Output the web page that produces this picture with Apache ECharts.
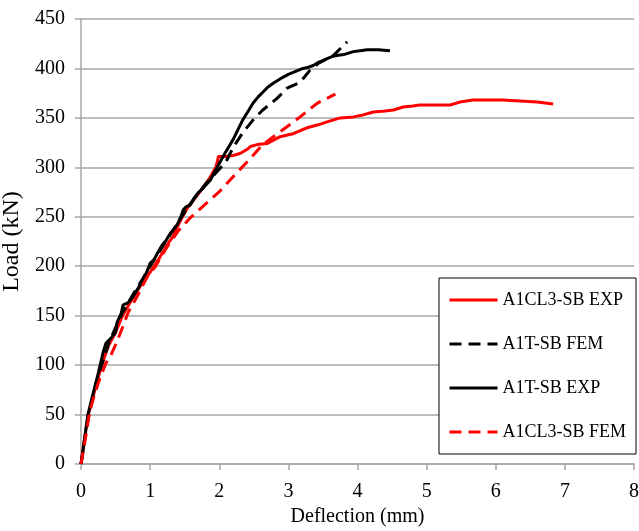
<!DOCTYPE html>
<html>
<head>
<meta charset="utf-8">
<script src="https://cdn.jsdelivr.net/npm/echarts@6/dist/echarts.min.js"></script>
<style>html,body{margin:0;padding:0;background:#fff;}#c{width:639px;height:531px;}</style>
</head>
<body>
<div id="c"></div>
<script>
// Deflection (mm), Load (kN)
const a1cl3ExpX = [0,0.05,0.1,0.2,0.3,0.4,0.5,0.6,0.7,0.77,0.85,1.0,1.14,1.26,1.33,1.43,1.53,1.62,1.74,1.87,1.95,1.99,2.1,2.2,2.3,2.4,2.45,2.55,2.69,2.8,2.88,3.0,3.07,3.2,3.27,3.43,3.56,3.75,3.94,4.08,4.23,4.4,4.52,4.66,4.8,4.9,5.1,5.34,5.48,5.67,5.9,6.1,6.35,6.6,6.83];
const a1cl3ExpY = [0,25,48,75,100,120,133,150,162,170,179,194,209,223,230,245,258,266,277,290,300,311,311,312,314,318,321,323,324,328,331,333,334,338,340,343,346,350,351,353,356,357,358,361,362,363,363,363,366,368,368,368,367,366,364];

const a1tFemX = [0,0.1,0.2,0.3,0.4,0.5,0.6,0.7,0.8,0.9,1.0,1.2,1.4,1.6,1.8,2.0,2.1,2.2,2.34,2.49,2.63,2.84,2.98,3.17,3.31,3.43,3.65,3.85];
const a1tFemY = [0,45,75,100,122,138,153,165,177,188,200,222,244,265,283,298,306,320,335,348,358,370,380,386,398,405,413,427];

const a1tExpX = [0,0.03,0.07,0.1,0.17,0.25,0.32,0.36,0.43,0.5,0.52,0.58,0.61,0.68,0.75,0.81,0.87,0.95,1.0,1.06,1.12,1.17,1.23,1.29,1.35,1.4,1.45,1.48,1.52,1.58,1.63,1.69,1.78,1.87,1.97,2.08,2.2,2.34,2.42,2.49,2.56,2.63,2.7,2.78,2.85,2.92,3.0,3.07,3.14,3.21,3.28,3.36,3.43,3.5,3.56,3.63,3.7,3.8,3.94,4.04,4.14,4.3,4.47];
const a1tExpY = [0,14,35,50,70,92,113,122,127,133,143,152,161,163,169,176,183,194,203,207,215,221,226,233,238,243,251,257,260,262,268,274,280,287,300,314,328,348,357,365,371,376,381,385,388,391,394,396,398,400,401,403,406,408,410,412,413,414,417,418,419,419,418];

const a1cl3FemX = [0,0.06,0.13,0.25,0.36,0.42,0.51,0.6,0.68,0.81,0.97,1.07,1.24,1.4,1.58,1.82,2.01,2.26,2.45,2.63,2.92,3.17,3.42,3.68];
const a1cl3FemY = [0,24,55,82,102,108,122,138,153,169,191,199,219,235,249,264,276,295,309,323,338,351,365,374];

const seriesNames = ['A1CL3-SB EXP','A1T-SB FEM','A1T-SB EXP','A1CL3-SB FEM'];
const xTicks = {min:0, max:8, interval:1};
const yTicks = {min:0, max:450, interval:50};

function pairs(xs, ys){ return xs.map((x,i)=>[x, ys[i]]); }

const font = '"Liberation Serif", "Times New Roman", serif';
const gridColor = '#a6a6a6';

function mk(name, xs, ys, color, dashed){
  return {
    name: name, type:'line', data: pairs(xs, ys),
    symbol:'none', showSymbol:false, smooth:false, animation:false,
    lineStyle:{color:color, width:3, type: dashed ? [12,7] : 'solid'},
    itemStyle:{color:color}
  };
}

const chart = echarts.init(document.getElementById('c'), null, {renderer:'canvas'});
chart.setOption({
  backgroundColor:'#ffffff',
  animation:false,
  grid:{left:81, right:5, top:19, bottom:67, containLabel:false, outerBoundsMode:'none'},
  xAxis:{
    type:'value', min:xTicks.min, max:xTicks.max, interval:xTicks.interval,
    name:'Deflection (mm)', nameLocation:'middle', nameGap:42,
    nameTextStyle:{fontFamily:font, fontSize:20, color:'#000'},
    axisLine:{show:true, onZero:false, lineStyle:{color:gridColor, width:1.5}},
    axisTick:{show:true, inside:false, length:6, lineStyle:{color:gridColor, width:1.5}},
    axisLabel:{fontFamily:font, fontSize:20, color:'#000', margin:18},
    splitLine:{show:false}
  },
  yAxis:{
    type:'value', min:yTicks.min, max:yTicks.max, interval:yTicks.interval,
    name:'Load (kN)', nameLocation:'middle', nameGap:43, nameRotate:90,
    nameTextStyle:{fontFamily:font, fontSize:24, color:'#000'},
    axisLine:{show:true, onZero:false, lineStyle:{color:gridColor, width:1.5}},
    axisTick:{show:true, inside:false, length:6, lineStyle:{color:gridColor, width:1.5}},
    axisLabel:{fontFamily:font, fontSize:20, color:'#000', margin:16},
    splitLine:{show:true, lineStyle:{color:gridColor, width:1.5}}
  },
  legend:{
    show:true, orient:'vertical', left:439, top:278,
    data: seriesNames,
    backgroundColor:'#ffffff', borderColor:'#000', borderWidth:1,
    padding:[13,10,13,9],
    itemWidth:48, itemHeight:18, itemGap:26,
    itemStyle:{opacity:0},
    lineStyle:{width:3},
    textStyle:{fontFamily:font, fontSize:18, color:'#000'},
    selectedMode:false
  },
  series:[
    mk(seriesNames[0], a1cl3ExpX, a1cl3ExpY, '#ff0000', false),
    mk(seriesNames[1], a1tFemX, a1tFemY, '#000000', true),
    mk(seriesNames[2], a1tExpX, a1tExpY, '#000000', false),
    mk(seriesNames[3], a1cl3FemX, a1cl3FemY, '#ff0000', true)
  ]
});
</script>
</body>
</html>
